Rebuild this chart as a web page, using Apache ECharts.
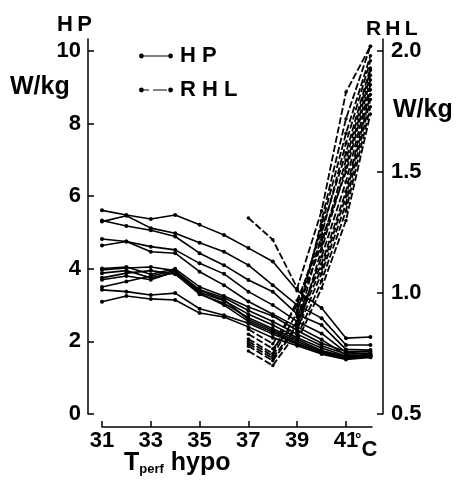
<!DOCTYPE html>
<html><head><meta charset="utf-8">
<script src="https://cdn.jsdelivr.net/npm/echarts@6/dist/echarts.min.js"></script>
<style>html,body{margin:0;padding:0;background:#fff}#c{width:460px;height:482px}</style>
</head><body><div id="c"></div>
<script>
// Temperatures (°C)
const temps = [31,32,33,34,35,36,37,38,39,40,41,42];
const rhlTemps = [37,38,39,40,41,42];
// HP (W/kg), one array per experiment, values at temps
const hpA = [5.61,5.48,5.37,5.48,5.21,4.93,4.57,4.20,3.40,2.92,2.09,2.12];
const hpB = [5.30,5.46,5.12,4.98,4.72,4.47,4.10,3.55,3.00,2.64,1.90,1.90];
const hpC = [5.33,5.18,5.06,4.89,4.43,4.10,3.69,3.37,2.75,2.45,1.78,1.76];
const hpD = [4.82,4.75,4.61,4.52,4.15,3.86,3.37,3.00,2.55,2.22,1.70,1.66];
const hpE = [4.64,4.75,4.47,4.43,3.92,3.55,3.10,2.75,2.40,2.05,1.62,1.62];
const hpK1 = [4.01,4.05,3.85,4.00,3.50,3.25,2.95,2.70,2.30,1.95,1.72,1.72];
const hpK2 = [3.97,4.02,4.05,3.95,3.42,3.20,2.85,2.55,2.20,1.88,1.65,1.68];
const hpK3 = [3.88,3.95,3.75,3.90,3.35,3.12,2.75,2.45,2.10,1.82,1.60,1.64];
const hpK4 = [3.75,3.88,3.95,3.85,3.30,3.05,2.65,2.35,2.05,1.75,1.58,1.62];
const hpK5 = [3.70,3.80,3.70,3.92,3.40,3.15,2.60,2.30,2.00,1.72,1.55,1.60];
const hpK6 = [3.50,3.65,3.80,3.95,3.32,3.00,2.55,2.25,1.95,1.68,1.52,1.58];
const hpF = [3.42,3.37,3.28,3.33,2.90,2.72,2.50,2.20,1.92,1.70,1.55,1.58];
const hpG = [3.09,3.25,3.17,3.14,2.78,2.67,2.40,2.10,1.88,1.65,1.50,1.56];
const hpList = [hpA,hpB,hpC,hpD,hpE,hpK1,hpK2,hpK3,hpK4,hpK5,hpK6,hpF,hpG];
// RHL (W/kg), values at rhlTemps (null = not measured)
const rhl1 = [1.31,1.22,1.02,1.34,1.83,2.02];
const rhl2 = [0.83,0.77,0.88,1.30,1.72,2.02];
const rhl3 = [0.80,0.74,0.92,1.28,1.66,1.98];
const rhl4 = [0.78,0.72,0.86,1.24,1.62,1.96];
const rhl5 = [0.85,0.79,0.95,1.26,1.58,1.93];
const rhl6 = [0.76,0.70,0.84,1.18,1.52,1.90];
const rhl7 = [0.81,0.75,0.97,1.22,1.50,1.88];
const rhl8 = [0.79,0.73,0.87,1.15,1.46,1.86];
const rhl9 = [null,null,0.90,1.12,1.42,1.84];
const rhl10 = [null,null,0.88,1.10,1.40,1.82];
const rhl11 = [null,null,0.85,1.08,1.37,1.80];
const rhl12 = [null,null,0.82,1.05,1.34,1.77];
const rhl13 = [null,null,0.80,1.02,1.30,1.74];
const rhl14 = [null,null,0.93,1.20,1.55,1.92];
const rhlList = [rhl1,rhl2,rhl3,rhl4,rhl5,rhl6,rhl7,rhl8,rhl9,rhl10,rhl11,rhl12,rhl13,rhl14];
// Tick labels
const xTicks = [31,33,35,37,39,41];
const hpTicks = [0,2,4,6,8,10];
const rhlTicks = [0.5,1.0,1.5,2.0];

const FF = '"Liberation Sans", Arial, sans-serif';
const chart = echarts.init(document.getElementById('c'), null, {renderer:'canvas'});

const series = [];
hpList.forEach(vals => {
  series.push({
    type:'line', name:'HP', xAxisIndex:0, yAxisIndex:0,
    data: temps.map((t,i)=>[t, vals[i]]),
    symbol:'circle', symbolSize:4, showSymbol:true,
    lineStyle:{color:'#000', width:1.6},
    itemStyle:{color:'#000'},
    emphasis:{disabled:true}, animation:false, silent:true
  });
});
rhlList.forEach(vals => {
  series.push({
    type:'line', name:'RHL', xAxisIndex:0, yAxisIndex:1,
    data: rhlTemps.map((t,i)=>[t, vals[i]]).filter(d=>d[1]!==null),
    symbol:'circle', symbolSize:3.5, showSymbol:true,
    lineStyle:{color:'#000', width:1.8, type:[7,2.5]},
    itemStyle:{color:'#000'},
    emphasis:{disabled:true}, animation:false, silent:true
  });
});

const dot = (cx) => `M${cx-2.4},3 A2.4,2.4 0 1 1 ${cx+2.4},3 A2.4,2.4 0 1 1 ${cx-2.4},3 Z`;
const hpIcon = 'path://M0,2.4 H34 V3.6 H0 Z ' + dot(2.4) + ' ' + dot(31.6);
const rhlIcon = 'path://M0,2.4 H10 V3.6 H0 Z M14,2.4 H28 V3.6 H14 Z M30,2.4 H34 V3.6 H30 Z ' + dot(2.4) + ' ' + dot(31.6);

const axisLbl = {color:'#000', fontSize:22, fontWeight:'bold', fontFamily:FF};

chart.setOption({
  backgroundColor:'#fff',
  animation:false,
  grid:[
    {left:88, right:77, top:39, bottom:68},
    {left:102, right:88, top:420, bottom:55}
  ],
  xAxis:[
    {gridIndex:0, type:'value', min:30.426, max:42.516, show:false},
    {gridIndex:1, type:'value', min:31, max:42.07,
     axisLine:{show:true, onZero:false, lineStyle:{color:'#000', width:1.5}},
     axisTick:{show:true, inside:true, length:6, customValues:xTicks, lineStyle:{color:'#000', width:1.5}},
     axisLabel:Object.assign({customValues:xTicks, margin:3}, axisLbl),
     splitLine:{show:false}}
  ],
  yAxis:[
    {gridIndex:0, type:'value', position:'left', min:0, max:10.33,
     axisLine:{show:true, onZero:false, lineStyle:{color:'#000', width:1.5}},
     axisTick:{show:true, inside:true, length:6, customValues:hpTicks, lineStyle:{color:'#000', width:1.5}},
     axisLabel:Object.assign({customValues:hpTicks, margin:7}, axisLbl),
     splitLine:{show:false}},
    {gridIndex:0, type:'value', position:'right', min:0.5, max:2.0495,
     axisLine:{show:true, onZero:false, lineStyle:{color:'#000', width:1.5}},
     axisTick:{show:true, inside:true, length:6, customValues:rhlTicks, lineStyle:{color:'#000', width:1.5}},
     axisLabel:Object.assign({customValues:rhlTicks, margin:8, formatter:v=>Number(v).toFixed(1)}, axisLbl),
     splitLine:{show:false}},
    {gridIndex:1, type:'value', min:0, max:1, show:false}
  ],
  legend:{
    orient:'vertical', left:134, top:40, itemGap:12, itemWidth:34, itemHeight:6,
    selectedMode:false,
    data:[{name:'HP', icon:hpIcon},{name:'RHL', icon:rhlIcon}],
    formatter: n => n.split('').join(' '),
    itemStyle:{color:'#000', borderWidth:0},
    lineStyle:{width:0},
    textStyle:{color:'#000', fontSize:22, fontWeight:'bold', fontFamily:FF, padding:[0,0,0,2]}
  },
  graphic:[
    {type:'text', left:57, top:14, style:{text:'H\u2009P', font:'bold 22px '+FF, fill:'#000'}},
    {type:'text', left:10, top:75, style:{text:'W/kg', font:'bold 25px '+FF, fill:'#000'}},
    {type:'text', left:366, top:19, style:{text:'R\u2009H\u2009L', font:'bold 21px '+FF, fill:'#000'}},
    {type:'text', left:393, top:98, style:{text:'W/kg', font:'bold 25px '+FF, fill:'#000'}},
    {type:'text', left:355, top:433, style:{
      text:'{d|°}{c|C}',
      rich:{d:{font:'bold 16px '+FF, fill:'#000', verticalAlign:'top'},
            c:{font:'bold 22px '+FF, fill:'#000', verticalAlign:'bottom', padding:[6,0,0,0]}}
    }},
    {type:'text', left:124, top:451, style:{
      text:'{a|T}{b|perf}{a| hypo}',
      rich:{a:{font:'bold 25px '+FF, fill:'#000', verticalAlign:'bottom'},
            b:{font:'bold 13px '+FF, fill:'#000', verticalAlign:'bottom'}}
    }}
  ],
  series: series
});
</script>
</body></html>
